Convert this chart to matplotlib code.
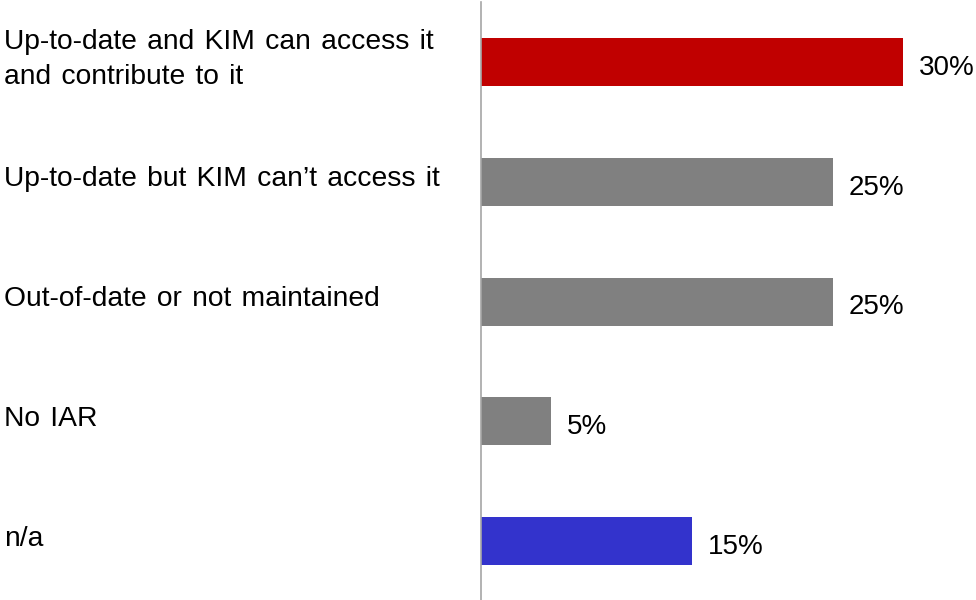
import matplotlib
matplotlib.use("Agg")
import matplotlib.pyplot as plt
import matplotlib.transforms as mtransforms

plt.rcParams['font.family'] = ['Liberation Sans', 'DejaVu Sans']

categories = [
    "Up-to-date and KIM can access it\nand contribute to it",
    "Up-to-date but KIM can\u2019t access it",
    "Out-of-date or not maintained",
    "No IAR",
    "n/a",
]
values = [30, 25, 25, 5, 15]
colors = ["#C00000", "#808080", "#808080", "#808080", "#3333CC"]


def wide_gaps(s):
    # slightly looser word spacing, like the slide text
    return s.replace(" ", " \u200a")


fig = plt.figure(figsize=(9.76, 6.0), dpi=100)
ax = fig.add_axes([481 / 976, 0.0, 495 / 976, 598 / 600])

ypos = list(range(len(values)))
ax.barh(ypos, values, height=0.4, color=colors)

ax.set_xlim(0, 495 / 14.07)
ax.set_ylim(4.49, -0.5)

for side in ["top", "right", "bottom"]:
    ax.spines[side].set_visible(False)
ax.spines["left"].set_color("#A6A6A6")
ax.spines["left"].set_linewidth(1.2)
ax.set_xticks([])
ax.set_yticks([])

# value labels to the right of each bar
for y, v in zip(ypos, values):
    ax.annotate(f"{v}%", xy=(v, y), xytext=(11.5, -4.2), textcoords="offset points",
                ha="left", va="center", fontsize=20, color="black")

# category labels at the left edge of the figure
trans = mtransforms.blended_transform_factory(fig.transFigure, ax.transData)
for y, label in zip(ypos, categories):
    ax.annotate(wide_gaps(label), xy=(4 / 976, y), xycoords=trans, xytext=(0, 1.7),
                textcoords="offset points", ha="left", va="center",
                fontsize=20.3, color="black", linespacing=1.43,
                annotation_clip=False)

fig.savefig("out.png", dpi=100)
